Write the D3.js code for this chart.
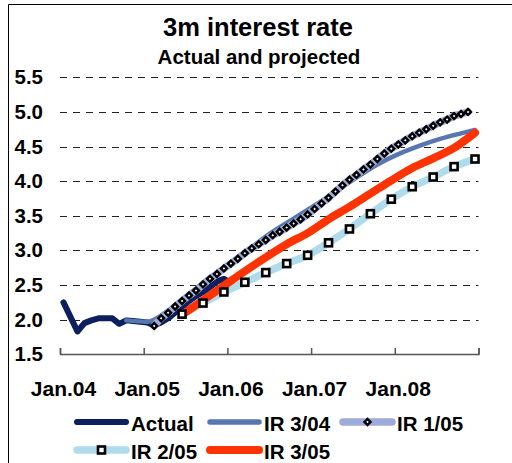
<!DOCTYPE html>
<html>
<head>
<meta charset="utf-8">
<script src="https://cdn.jsdelivr.net/npm/d3@7"></script>
<style>
  body { margin: 0; background: #fff; }
  svg { display: block; font-family: "Liberation Sans", Arial, sans-serif; font-weight: bold; }
</style>
</head>
<body>
<svg id="chart" width="512" height="463"></svg>
<script>
// month index 0 = Jan.04, monthly categories through Dec.08
var xTickLabels = ["Jan.04", "Jan.05", "Jan.06", "Jan.07", "Jan.08"];
var yTicks = [1.5, 2.0, 2.5, 3.0, 3.5, 4.0, 4.5, 5.0, 5.5];

var actualMonths = d3.range(0, 25);
var actualValues = [2.25, 2.04, 1.83, 1.95, 1.99, 2.02, 2.02, 2.02, 1.94, 1.99, 1.98, 1.97, 1.96,
                    1.92, 1.96, 2.02, 2.10, 2.18, 2.27, 2.34, 2.40, 2.47, 2.55, 2.59, 2.53];

var ir304Months = [9, 12, 15, 18, 21, 24, 27, 30, 33, 36, 39, 42, 45, 48, 51, 54, 57, 59];
var ir304Values = [1.99, 1.97, 2.13, 2.37, 2.60, 2.83, 3.05, 3.27, 3.46, 3.65, 3.85, 4.05, 4.24, 4.39, 4.51, 4.61, 4.69, 4.74];

var ir105Months = d3.range(13, 59);
var ir105Values = [1.91, 2.02, 2.10, 2.19, 2.27, 2.35, 2.42, 2.51, 2.59, 2.66, 2.74, 2.81, 2.88, 2.96, 3.03, 3.09,
                   3.15, 3.22, 3.27, 3.33, 3.39, 3.45, 3.52, 3.60, 3.68, 3.76, 3.85, 3.94, 4.02, 4.09, 4.17, 4.24,
                   4.32, 4.40, 4.47, 4.53, 4.59, 4.65, 4.70, 4.75, 4.80, 4.85, 4.89, 4.94, 4.97, 5.00];

var ir205Months = d3.range(17, 60, 3);
var ir205Values = [2.08, 2.24, 2.40, 2.54, 2.68, 2.81, 2.93, 3.11, 3.31, 3.53, 3.74, 3.92, 4.06, 4.21, 4.32];

var ir305Months = d3.range(17, 60, 3);
var ir305Values = [2.07, 2.28, 2.49, 2.70, 2.90, 3.09, 3.25, 3.45, 3.63, 3.82, 4.01, 4.19, 4.33, 4.48, 4.70];

var svg = d3.select("#chart");

// outer frame (only left and top edges show in the crop)
svg.append("path").attr("d", "M8.5,470 V4.5 H520").attr("fill", "none").attr("stroke", "#000").attr("stroke-width", 1);

svg.append("text").text("3m interest rate").attr("x", 258).attr("y", 36)
  .attr("text-anchor", "middle").attr("font-size", 25.5);
svg.append("text").text("Actual and projected").attr("x", 259).attr("y", 64)
  .attr("text-anchor", "middle").attr("font-size", 20.5);

var x = d3.scaleLinear().domain([0, 60]).range([60, 478.5]);
var y = d3.scaleLinear().domain([1.5, 5.5]).range([354.3, 77.3]);

// gridlines
svg.append("g").selectAll("line").data(yTicks.slice(1)).enter().append("line")
  .attr("x1", x(0)).attr("x2", x(60))
  .attr("y1", function(d){ return Math.round(y(d)) + 0.5; })
  .attr("y2", function(d){ return Math.round(y(d)) + 0.5; })
  .attr("stroke", "#222").attr("stroke-width", 1).attr("stroke-dasharray", "7,6");

// y labels
svg.append("g").selectAll("text").data(yTicks).enter().append("text")
  .text(function(d){ return d.toFixed(1); })
  .attr("x", 43).attr("y", function(d){ return y(d) + 7; })
  .attr("text-anchor", "end").attr("font-size", 20.5);

// x axis with inward ticks
var xAxis = d3.axisBottom(x).tickValues([0, 12, 24, 36, 48, 60]).tickSize(-6).tickFormat("");
var gx = svg.append("g").attr("transform", "translate(0," + Math.round(y(1.5)) + ")").call(xAxis);
gx.select(".domain").attr("stroke", "#555").attr("stroke-width", 1.5);
gx.selectAll(".tick line").attr("stroke", "#555").attr("stroke-width", 1.5);

svg.append("g").selectAll("text").data(xTickLabels).enter().append("text")
  .text(function(d){ return d; })
  .attr("x", function(d, i){ return x(i * 12 + 0.5); }).attr("y", 396)
  .attr("text-anchor", "middle").attr("font-size", 21);

function pts(months, values){
  return months.map(function(m, i){ return [m, values[i]]; });
}

var series = [
  {name: "Actual",  data: pts(actualMonths, actualValues), color: "#0c1f5e", width: 6, curve: d3.curveLinear},
  {name: "IR 3/04", data: pts(ir304Months, ir304Values), color: "#5877b1", width: 4.5, curve: d3.curveMonotoneX},
  {name: "IR 1/05", data: pts(ir105Months, ir105Values), color: "#9eabd9", width: 7.5, curve: d3.curveMonotoneX, marker: "diamond"},
  {name: "IR 2/05", data: pts(ir205Months, ir205Values), color: "#b0dbea", width: 7.5, curve: d3.curveMonotoneX, marker: "square"},
  {name: "IR 3/05", data: pts(ir305Months, ir305Values), color: "#ff3300", width: 8, curve: d3.curveMonotoneX}
];

var lines = svg.append("g");
series.forEach(function(s){
  var line = d3.line().curve(s.curve)
    .x(function(d){ return x(d[0] + 0.5); })
    .y(function(d){ return y(d[1]); });
  lines.append("path").datum(s.data).attr("d", line)
    .attr("fill", "none").attr("stroke", s.color).attr("stroke-width", s.width)
    .attr("stroke-linecap", "round").attr("stroke-linejoin", "round");
});

function drawMarker(g, type, cx, cy){
  if(type == "diamond"){
    g.append("rect").attr("x", -2.1).attr("y", -2.1).attr("width", 4.2).attr("height", 4.2)
      .attr("transform", "translate(" + cx + "," + cy + ") rotate(45)")
      .attr("fill", "#fff").attr("stroke", "#000").attr("stroke-width", 2.4);
  } else {
    g.append("rect").attr("x", cx - 3.5).attr("y", cy - 3.5).attr("width", 7).attr("height", 7)
      .attr("fill", "#fff").attr("stroke", "#000").attr("stroke-width", 2.6);
  }
}

// markers drawn after all lines
var marks = svg.append("g");
series.forEach(function(s){
  if(!s.marker) return;
  s.data.forEach(function(d){ drawMarker(marks, s.marker, x(d[0] + 0.5), y(d[1])); });
});

// legend
var legendPos = [[75, 422], [208, 422], [341, 422], [75, 450], [208, 450]];
var lg = svg.append("g");
series.forEach(function(s, i){
  var lx = legendPos[i][0], ly = legendPos[i][1];
  lg.append("line").attr("x1", lx + 2).attr("x2", lx + 51).attr("y1", ly).attr("y2", ly)
    .attr("stroke", s.color).attr("stroke-width", Math.max(s.width, 5.5)).attr("stroke-linecap", "round");
  if(s.marker) drawMarker(lg, s.marker, lx + 26.5, ly);
  lg.append("text").text(s.name).attr("x", lx + 56).attr("y", ly + 9).attr("font-size", 20.5);
});
</script>
</body>
</html>
